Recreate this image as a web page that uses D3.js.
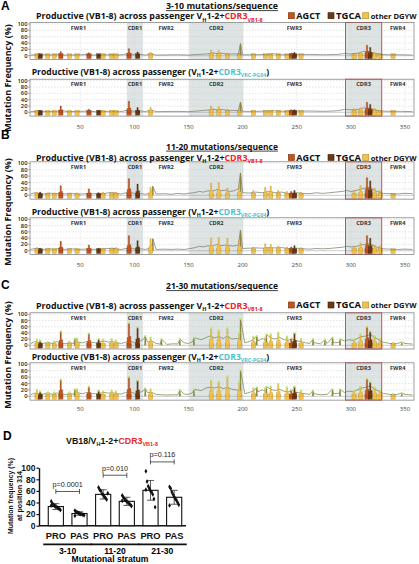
<!DOCTYPE html>
<html><head><meta charset="utf-8">
<script src="https://cdn.jsdelivr.net/npm/d3@7"></script>
<style>body{margin:0;background:#fff;} svg{display:block;font-family:'Open Sans',Arial,sans-serif;}</style>
</head><body><svg id="c" width="419" height="564"></svg>
<script>
// ---------------- DATA ----------------
const regionNames = ["FWR1","CDR1","FWR2","CDR2","FWR3","CDR3","FWR4"];
const regionBounds = [3.5, 93, 108, 150.6, 200.6, 295, 328.5, 358];
const shadedRegions = ["CDR1","CDR2","CDR3"];
const xTicks = [50,100,150,200,250,300,350];
const yTicks = [0,20,40,60,80,100];
const strata = ["3-10 mutations/sequence","11-20 mutations/sequence","21-30 mutations/sequence"];
const legendItems = ["AGCT","TGCA","other DGYW"];

// hotspot motifs (start position, 4 nt) and motif type
const motifStart = [8,11,18,24,30,38,45,56,65,69,77,81,93,101,113,169,176,184,195,208,219,224,231,239,243,246,252,301,307,313,316,320,325,337];
const motifType  = ["other DGYW","TGCA","other DGYW","other DGYW","AGCT","other DGYW","other DGYW","AGCT","TGCA","other DGYW","other DGYW","other DGYW","AGCT","TGCA","other DGYW","other DGYW","other DGYW","other DGYW","other DGYW","other DGYW","other DGYW","other DGYW","other DGYW","other DGYW","AGCT","TGCA","other DGYW","other DGYW","other DGYW","AGCT","TGCA","other DGYW","other DGYW","other DGYW"];

// motif peak mutation frequency (%) per plot
const hotA1 = [5,5,4,4,13,4,4,9,5,4,4,4,22,12,10,18,16,8,6,6,5,5,4,4,8,10,5,5,12,33,26,10,6,3];
const hotA2 = [6,5,4,4,20,4,5,10,6,5,5,5,35,15,15,20,18,10,8,6,6,5,5,5,8,8,5,12,14,32,25,12,6,3];
const hotB1 = [10,10,8,8,30,8,8,20,8,10,10,10,52,35,25,38,40,22,30,15,25,28,15,12,12,15,10,15,30,55,45,22,15,4];
const hotB2 = [10,8,8,8,30,8,8,18,8,8,8,10,48,32,38,40,42,40,35,12,22,20,15,12,12,16,10,15,25,48,40,18,15,4];
const hotC1 = [18,15,10,12,45,12,22,38,20,18,20,15,72,58,25,55,48,55,40,28,25,35,40,28,22,40,20,20,35,60,45,30,20,8];
const hotC2 = [20,15,12,12,52,12,22,30,18,15,18,15,60,50,22,50,45,62,45,25,25,30,38,28,20,30,18,18,30,55,45,28,18,8];

// background mutation frequency line, [position, %]
const lineA1 = [[4,2],[10,3],[14,4],[20,2],[28,3],[32,5],[36,2],[50,3],[58,4],[62,2],[75,3],[85,2],[90,4],[95,6],[99,3],[104,5],[110,2],[116,6],[120,2],[140,3],[150,2],[158,4],[164,5],[168,6],[172,9],[176,7],[180,8],[186,5],[192,6],[196,4],[200,3],[210,3],[222,4],[228,6],[236,3],[250,4],[262,4],[275,3],[288,4],[294,7],[300,5],[304,7],[308,9],[312,14],[318,12],[322,7],[328,4],[335,3],[345,3],[357,2]];
const lineA2 = [[4,2],[12,4],[20,2],[28,3],[33,6],[38,2],[50,3],[58,4],[64,2],[76,3],[86,2],[90,4],[94,8],[99,3],[104,5],[110,2],[116,7],[120,2],[140,3],[150,2],[158,4],[164,6],[168,7],[172,10],[176,8],[180,9],[186,6],[192,6],[196,5],[200,3],[212,3],[222,4],[228,5],[238,3],[250,4],[264,4],[276,3],[288,5],[294,9],[300,8],[304,8],[308,10],[312,14],[318,12],[322,8],[328,4],[336,3],[346,3],[357,2]];
const lineB1 = [[4,4],[8,8],[12,6],[16,4],[22,7],[26,4],[30,6],[36,4],[42,6],[48,3],[54,5],[60,4],[66,6],[72,5],[76,8],[80,9],[84,6],[88,4],[92,8],[97,10],[100,5],[106,6],[110,3],[116,8],[120,4],[128,5],[134,3],[140,6],[146,4],[150,6],[155,8],[160,12],[164,10],[168,14],[172,12],[176,18],[180,14],[184,16],[188,12],[192,14],[196,20],[200,8],[206,7],[212,10],[218,8],[224,12],[230,8],[236,10],[242,6],[250,8],[256,6],[262,5],[268,8],[274,6],[280,8],[286,10],[292,12],[296,15],[300,12],[304,14],[308,18],[312,22],[318,25],[322,15],[326,10],[330,6],[336,5],[342,4],[350,6],[357,5]];
const lineB2 = [[4,4],[8,7],[12,5],[16,4],[22,6],[26,4],[30,7],[36,4],[42,6],[48,4],[54,5],[60,4],[66,5],[72,6],[76,7],[80,8],[84,5],[88,4],[92,7],[97,9],[100,5],[106,6],[110,4],[116,9],[120,4],[128,5],[134,4],[140,5],[146,4],[150,6],[155,9],[160,14],[164,12],[168,16],[172,14],[176,20],[180,16],[184,18],[188,16],[192,15],[196,18],[200,7],[206,8],[212,9],[218,8],[224,10],[230,9],[236,10],[242,7],[250,8],[256,6],[262,5],[268,7],[274,6],[280,7],[286,9],[292,11],[296,14],[300,12],[304,13],[308,16],[312,20],[318,22],[322,14],[326,9],[330,6],[336,5],[342,4],[350,5],[357,4]];
const lineC1 = [[4,5],[8,12],[12,8],[16,6],[20,10],[24,6],[28,12],[32,8],[36,5],[40,8],[44,6],[48,10],[52,8],[56,12],[60,10],[64,8],[68,12],[72,14],[76,10],[80,12],[84,8],[88,6],[92,10],[96,14],[100,8],[104,12],[108,18],[112,10],[116,14],[120,6],[124,4],[130,3],[136,5],[140,4],[146,8],[150,6],[154,12],[158,22],[162,18],[166,25],[170,30],[174,24],[178,28],[182,22],[186,30],[190,20],[194,22],[198,20],[202,8],[206,12],[210,18],[214,14],[218,22],[222,16],[226,24],[230,20],[234,26],[238,18],[242,16],[246,20],[250,14],[254,12],[258,8],[262,6],[266,8],[272,5],[278,6],[284,8],[290,10],[294,14],[298,18],[302,16],[306,22],[310,28],[314,30],[318,35],[322,25],[326,18],[330,10],[336,6],[342,5],[350,6],[357,4]];
const lineC2 = [[4,5],[8,10],[12,8],[16,7],[20,12],[24,6],[28,10],[32,9],[36,5],[40,9],[44,6],[48,11],[52,8],[56,12],[60,9],[64,8],[68,10],[72,12],[76,10],[80,11],[84,8],[88,7],[92,12],[96,14],[100,9],[104,11],[108,16],[112,12],[116,12],[120,6],[124,5],[130,4],[136,5],[140,4],[146,7],[150,6],[154,12],[158,20],[162,18],[166,26],[170,28],[174,26],[178,30],[182,24],[186,28],[190,22],[194,20],[198,18],[202,8],[206,12],[210,16],[214,14],[218,20],[222,15],[226,22],[230,18],[234,22],[238,16],[242,14],[246,18],[250,12],[254,10],[258,8],[262,6],[266,8],[272,5],[278,6],[284,8],[290,10],[294,12],[298,16],[302,14],[306,20],[310,26],[314,28],[318,32],[322,22],[326,16],[330,9],[336,6],[342,5],[350,6],[357,4]];

// isolated non-hotspot spikes, [position, %]
const spikeA1 = [[198,38]];
const spikeA2 = [[198,32]];
const spikeB1 = [[198,70],[117,28]];
const spikeB2 = [[198,65],[117,38]];
const spikeC1 = [[45,22],[110,30],[125,20],[142,20],[155,25],[198,85],[213,30],[222,35],[265,20],[276,18],[283,25],[290,20],[347,10]];
const spikeC2 = [[45,22],[110,25],[142,20],[155,22],[198,82],[213,28],[222,30],[265,18],[283,22],[290,22],[347,10]];

// panel D
const dCats = ["PRO","PAS","PRO","PAS","PRO","PAS"];
const dGroups = ["3-10","11-20","21-30"];
const dMeans = [33,21,54,42,61,49];
const dSD = [5,3,8,7,17,12];
const dPoints = [
 [42,38,36,34,33,32,30,29,27,35],
 [26,24,23,22,21,20,20,19,18,17],
 [66,62,60,55,53,50,48,45,56],
 [52,49,46,44,42,40,38,36,34,43],
 [94,76,68,64,60,58,54,46,32,62],
 [67,64,58,54,50,46,44,40,36,35]
];
const dPvals = ["p=0.0001","p=0.010","p=0.116"];
const dBracket = [59,87,110];
const dYTicks = [0,20,40,60,80,100];

// ---------------- DRAW ----------------
const svg = d3.select("#c");
const typeFill = {"AGCT":"#c4531d","TGCA":"#6b3a14","other DGYW":"#f2c24f"};
const typeStroke = {"AGCT":"#7a2e08","TGCA":"#3a1d06","other DGYW":"#b48a22"};
const x = d3.scaleLinear().domain([0,360]).range([26.2,415.8]);
const X0 = 30, X1 = 414;

function rich(g, xx, yy, parts, fs, anchor, targetW, weight, family, transform){
  function build(size){
    const t = g.append("text").attr("x",xx).attr("y",yy).attr("font-size",size)
      .attr("font-weight",weight||"bold").attr("text-anchor",anchor||"start");
    if(family) t.attr("font-family",family);
    if(transform) t.attr("transform",transform);
    let shifted = 0;
    parts.forEach(p=>{
      const ts = t.append("tspan").text(p.t).attr("fill",p.c||"#111");
      const want = p.sub ? size*0.28 : 0;
      if(want!==shifted){ ts.attr("dy", want-shifted); shifted = want; }
      if(p.sub) ts.attr("font-size", size*0.62);
    });
    return t;
  }
  let t = build(fs);
  if(targetW){
    const w = t.node().getComputedTextLength();
    t.remove();
    t = build(fs*targetW/w);
  }
  return t;
}

const plots = [
 {top:24, zero:55.7, line:lineA1, hot:hotA1, spikes:spikeA1, subY:19.2, kind:1, dots:false, lc:"#77776a"},
 {top:80.7, zero:112.3, line:lineA2, hot:hotA2, spikes:spikeA2, subY:74.8, kind:2, dots:false, lc:"#77776a"},
 {top:163.3, zero:195.3, line:lineB1, hot:hotB1, spikes:spikeB1, subY:161, kind:1, dots:false, lc:"#737561"},
 {top:219.3, zero:250.7, line:lineB2, hot:hotB2, spikes:spikeB2, subY:214.5, kind:2, dots:false, lc:"#737561"},
 {top:314.3, zero:345.3, line:lineC1, hot:hotC1, spikes:spikeC1, subY:308.5, kind:1, dots:true, lc:"#6a853f"},
 {top:364.3, zero:396.3, line:lineC2, hot:hotC2, spikes:spikeC2, subY:360, kind:2, dots:true, lc:"#6a853f"}
];
const panels = [
 {letter:"A", letterY:10, title:strata[0], titleY:9, tickY:129, ytY:78, p:[0,1]},
 {letter:"B", letterY:139, title:strata[1], titleY:149.5, tickY:266.5, ytY:212, p:[2,3]},
 {letter:"C", letterY:289, title:strata[2], titleY:289, tickY:411, ytY:355, p:[4,5]}
];

panels.forEach(pn=>{
  svg.append("text").attr("x",1).attr("y",pn.letterY).attr("font-size",12).attr("font-weight","bold")
    .attr("font-family","Arial, sans-serif").text(pn.letter);
  const tt = rich(svg, 222, pn.titleY, [{t:pn.title}], 9, "middle", 112);
  const bb = tt.node().getBBox();
  svg.append("line").attr("x1",bb.x).attr("x2",bb.x+bb.width).attr("y1",pn.titleY+1.6).attr("y2",pn.titleY+1.6)
    .attr("stroke","#111").attr("stroke-width",0.8);
  svg.append("text").attr("transform",`translate(11,${pn.ytY}) rotate(-90)`).attr("text-anchor","middle")
    .attr("font-size",9).attr("font-weight","bold").attr("fill","#111").text("Mutation Frequency (%)");

  pn.p.forEach(pi=>{
    const P = plots[pi];
    const y = d3.scaleLinear().domain([0,100]).range([P.zero,P.top]);
    const g = svg.append("g");
    const bTop = y(100)-1.5, bBot = y(-12);
    g.append("rect").attr("x",X0).attr("y",bTop).attr("width",X1-X0).attr("height",bBot-bTop).attr("fill","#fff");
    shadedRegions.forEach(r=>{
      const i = regionNames.indexOf(r);
      g.append("rect").attr("x",x(regionBounds[i])).attr("width",x(regionBounds[i+1])-x(regionBounds[i]))
        .attr("y",bTop).attr("height",bBot-bTop).attr("fill","#dde4e3");
    });
    g.selectAll(".hg").data(yTicks.filter(d=>d>0)).join("line")
      .attr("x1",X0).attr("x2",X1).attr("y1",d=>y(d)).attr("y2",d=>y(d))
      .attr("stroke","#c8c8c8").attr("stroke-width",0.5).attr("stroke-dasharray","1.5,1.5");
    g.selectAll(".vg").data(xTicks).join("line")
      .attr("x1",d=>x(d)).attr("x2",d=>x(d)).attr("y1",bTop).attr("y2",bBot)
      .attr("stroke","#d0d0d0").attr("stroke-width",0.5).attr("stroke-dasharray","1.5,1.5");
    g.append("line").attr("x1",X0).attr("x2",X1).attr("y1",y(0)).attr("y2",y(0)).attr("stroke","#999").attr("stroke-width",0.5);
    motifStart.forEach((s,i)=>{
      g.append("rect").attr("x",x(s)).attr("width",x(s+4)-x(s)).attr("y",y(6)).attr("height",y(-9)-y(6))
        .attr("fill",typeFill[motifType[i]]).attr("stroke",typeStroke[motifType[i]]).attr("stroke-width",0.3);
    });
    const pts = P.line.concat(P.spikes).sort((a,b)=>a[0]-b[0]);
    g.append("path").attr("d",d3.line().x(d=>x(d[0])).y(d=>y(d[1]))(pts))
      .attr("fill","none").attr("stroke",P.lc).attr("stroke-width",0.7);
    P.spikes.forEach(s=>{
      g.append("path").attr("d",d3.line()([[x(s[0]-0.9),y(0)],[x(s[0]-0.5),y(s[1])],[x(s[0]+0.5),y(s[1])],[x(s[0]+0.9),y(0)]]))
        .attr("fill","#8d8746").attr("stroke","none");
    });
    motifStart.forEach((s,i)=>{
      const v = P.hot[i], t = motifType[i];
      const shape = [[s+0.3,0],[s+0.3,v*0.35],[s+1.3,v*0.35],[s+1.3,v],[s+2.5,v],[s+2.5,v*0.4],[s+3.7,v*0.4],[s+3.7,0]];
      g.append("path").attr("d",d3.line().x(d=>x(d[0])).y(d=>y(d[1]))(shape)+"Z")
        .attr("fill",typeFill[t]).attr("stroke",typeStroke[t]).attr("stroke-width",0.3);
    });
    if(P.dots){
      const tops = P.spikes.map(s=>[s[0],s[1]]).concat(motifStart.map((s,i)=>[s+1.9,P.hot[i]]));
      g.selectAll(".dt").data(tops).join("circle").attr("cx",d=>x(d[0])).attr("cy",d=>y(d[1])).attr("r",1.1)
        .attr("fill","#bde86b");
    }
    const c3 = regionNames.indexOf("CDR3");
    g.append("rect").attr("x",x(regionBounds[c3])).attr("width",x(regionBounds[c3+1])-x(regionBounds[c3]))
      .attr("y",bTop).attr("height",bBot-bTop).attr("fill","none").attr("stroke","#d8373a").attr("stroke-width",0.9);
    g.append("rect").attr("x",X0).attr("y",bTop).attr("width",X1-X0).attr("height",bBot-bTop)
      .attr("fill","none").attr("stroke","#777").attr("stroke-width",0.7);
    regionNames.forEach((r,i)=>{
      g.append("text").attr("x",x((regionBounds[i]+regionBounds[i+1])/2)).attr("y",bTop+7)
        .attr("text-anchor","middle").attr("font-size",5.6).attr("font-weight","bold").attr("fill","#333").text(r);
    });
    yTicks.forEach(d=>{
      g.append("text").attr("x",27.5).attr("y",y(d)+2).attr("text-anchor","end").attr("font-size",5.8)
        .attr("font-weight","600").attr("fill","#222").text(d);
      g.append("line").attr("x1",28).attr("x2",30).attr("y1",y(d)).attr("y2",y(d)).attr("stroke","#666").attr("stroke-width",0.5);
    });
    const subParts = P.kind===1
      ? [{t:"Productive (VB1-8) across passenger V"},{t:"H",sub:true},{t:"1-2+"},{t:"CDR3",c:"#e8282b"},{t:"VB1-8",sub:true,c:"#e8282b"}]
      : [{t:"Productive (VB1-8) across passenger (V"},{t:"H",sub:true},{t:"1-2+"},{t:"CDR3",c:"#4cc3cf"},{t:"VRC-PG04",sub:true,c:"#4cc3cf"},{t:")"}];
    rich(svg, P.kind===1?36:31.7, P.subY, subParts, 9, "start", P.kind===1?227:238);
    if(P.kind===1){
      const lx = [288.3,328,362.7], tw=[24,25,46];
      legendItems.forEach((it,k)=>{
        svg.append("rect").attr("x",lx[k]).attr("y",P.subY-6.5).attr("width",6).attr("height",6)
          .attr("fill",typeFill[it]).attr("stroke",typeStroke[it]).attr("stroke-width",0.6);
        rich(svg, lx[k]+8, P.subY-0.3, [{t:it}], 8, "start", tw[k]);
      });
    }
  });
  xTicks.forEach(d=>{
    svg.append("text").attr("x",x(d)).attr("y",pn.tickY).attr("text-anchor","middle").attr("font-size",6)
      .attr("fill","#444").text(d);
  });
});

// ---------- Panel D ----------
const AR = "Arial, 'Liberation Sans', sans-serif";
const gd = svg.append("g");
gd.append("text").attr("x",3).attr("y",439.5).attr("font-size",12).attr("font-weight","bold")
  .attr("font-family",AR).text("D");
rich(gd, 112, 443.5, [{t:"VB18/V"},{t:"H",sub:true},{t:"1-2+"},{t:"CDR3",c:"#e8282b"},{t:"VB1-8",sub:true,c:"#e8282b"}], 10, "middle", 92, "bold", AR);
const yD = d3.scaleLinear().domain([0,100]).range([525.7,467.7]);
const xD = d3.scaleBand().domain(d3.range(dCats.length)).range([44,186]).paddingInner(0.36).paddingOuter(0.18);
const ax = gd.append("g").attr("transform","translate(39,0)")
  .call(d3.axisLeft(yD).tickValues(dYTicks).tickSize(2.5).tickPadding(1).tickSizeOuter(0));
ax.select(".domain").attr("stroke","#111").attr("stroke-width",1.4);
ax.selectAll(".tick line").attr("stroke","#111").attr("stroke-width",1.2);
ax.selectAll(".tick text").attr("font-size",8.5).attr("font-weight","bold").attr("fill","#111").attr("font-family",AR);
gd.append("line").attr("x1",39).attr("x2",186).attr("y1",yD(0)).attr("y2",yD(0)).attr("stroke","#111").attr("stroke-width",1.4);
dCats.forEach((c,i)=>{
  const cx = xD(i)+xD.bandwidth()/2;
  gd.append("rect").attr("x",xD(i)).attr("y",yD(dMeans[i])).attr("width",xD.bandwidth()).attr("height",yD(0)-yD(dMeans[i]))
    .attr("fill","#fff").attr("stroke","#111").attr("stroke-width",1.1);
  const lo = yD(dMeans[i]-dSD[i]), hi = yD(dMeans[i]+dSD[i]);
  gd.append("line").attr("x1",cx).attr("x2",cx).attr("y1",lo).attr("y2",hi).attr("stroke","#333").attr("stroke-width",0.8);
  [lo,hi].forEach(yy=>gd.append("line").attr("x1",cx-3.5).attr("x2",cx+3.5).attr("y1",yy).attr("y2",yy).attr("stroke","#333").attr("stroke-width",0.8));
  dPoints[i].forEach((v,k)=>{
    const off = ((k*37)%9-4)*1.15;
    gd.append("path").attr("d",d3.symbol(d3.symbolDiamond,7)()).attr("transform",`translate(${cx+off},${yD(v)})`).attr("fill","#111");
  });
  gd.append("text").attr("x",cx).attr("y",538.5).attr("text-anchor","middle").attr("font-size",9.3).attr("font-weight","bold")
    .attr("font-family",AR).attr("fill","#111").text(c);
});
dGroups.forEach((gname,j)=>{
  const a = xD(2*j)-5, b = xD(2*j+1)+xD.bandwidth()+5;
  gd.append("line").attr("x1",a).attr("x2",b).attr("y1",544.3).attr("y2",544.3).attr("stroke","#111").attr("stroke-width",1.8);
  gd.append("text").attr("x",(a+b)/2).attr("y",554).attr("text-anchor","middle").attr("font-size",8.6).attr("font-weight","bold")
    .attr("font-family",AR).text(gname);
  const c1 = xD(2*j)+xD.bandwidth()/2, c2 = xD(2*j+1)+xD.bandwidth()/2, by = yD(dBracket[j]);
  gd.append("line").attr("x1",c1).attr("x2",c2).attr("y1",by).attr("y2",by).attr("stroke","#333").attr("stroke-width",0.8);
  [c1,c2].forEach(cc=>gd.append("line").attr("x1",cc).attr("x2",cc).attr("y1",by-2.5).attr("y2",by+2.5).attr("stroke","#333").attr("stroke-width",0.8));
  gd.append("text").attr("x",(c1+c2)/2).attr("y",by-4.5).attr("text-anchor","middle").attr("font-size",7.2)
    .attr("font-family",AR).attr("fill","#222").text(dPvals[j]);
});
gd.append("text").attr("x",110).attr("y",562).attr("text-anchor","middle").attr("font-size",8.6).attr("font-weight","bold")
  .attr("font-family",AR).text("Mutational stratum");
rich(gd, 0, 0, [{t:"Mutation frequency (%)"}], 8, "middle", 76, "bold", AR, "translate(13,496) rotate(-90)");
rich(gd, 0, 0, [{t:"at position 314"}], 8, "middle", 50, "bold", AR, "translate(21.5,496) rotate(-90)");
</script></body></html>
